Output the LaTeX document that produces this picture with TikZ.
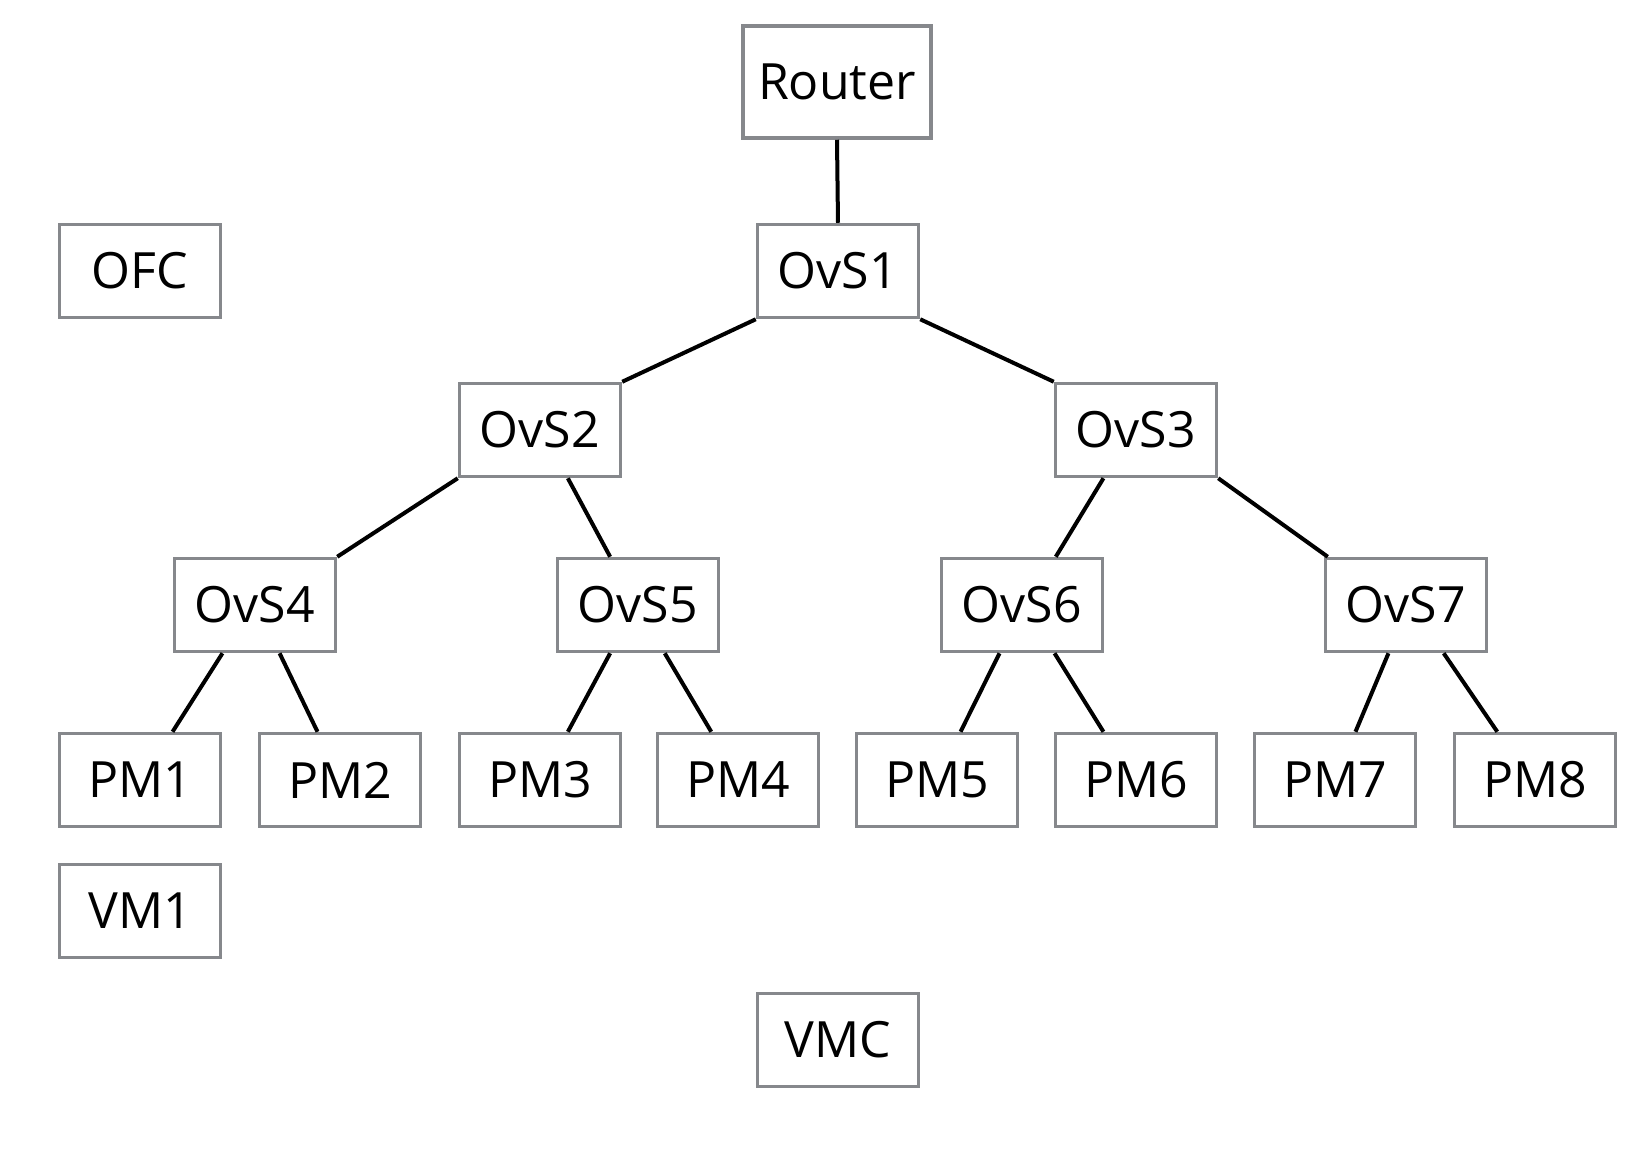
\documentclass[tikz,border=0pt]{standalone}
\usepackage{fontspec}
\setmainfont{Open Sans}
\usepackage{tikz}
\definecolor{boxgray}{RGB}{134,136,140}

\begin{document}
\begin{tikzpicture}[x=0.5pt,y=-0.5pt,
    box/.style={draw=boxgray,line width=1.75pt,minimum width=80.5pt,minimum height=46.5pt,
                inner sep=0pt,font=\fontsize{25}{30}\selectfont},
    link/.style={line width=2pt}]
  \useasboundingbox (0,0) rectangle (1630,1148);

  \node[box,minimum width=94pt,minimum height=56pt] (router) at (837,82) {Router};
  \node[box] (ofc)  at (140,271)  {OFC};
  \node[box] (ovs1) at (838,271)  {OvS1};
  \node[box] (ovs2) at (540,430)  {OvS2};
  \node[box] (ovs3) at (1136,430) {OvS3};
  \node[box] (ovs4) at (255,605)  {OvS4};
  \node[box] (ovs5) at (638,605)  {OvS5};
  \node[box] (ovs6) at (1022,605) {OvS6};
  \node[box] (ovs7) at (1406,605) {OvS7};
  \node[box] (pm1)  at (140,780)  {PM1};
  \node[box] (pm2)  at (340,780)  {PM2};
  \node[box] (pm3)  at (540,780)  {PM3};
  \node[box] (pm4)  at (738,780)  {PM4};
  \node[box] (pm5)  at (937,780)  {PM5};
  \node[box] (pm6)  at (1136,780) {PM6};
  \node[box] (pm7)  at (1335,780) {PM7};
  \node[box] (pm8)  at (1535,780) {PM8};
  \node[box] (vm1)  at (140,911)  {VM1};
  \node[box] (vmc)  at (838,1040) {VMC};

  \path[link]
    (router.south)      edge (ovs1.north)
    (ovs1.south west)   edge (ovs2.north east)
    (ovs1.south east)   edge (ovs3.north west)
    (ovs2.south west)   edge (ovs4.north east)
    (ovs2.-60)          edge (ovs5.120)
    (ovs3.-124)         edge (ovs6.55)
    (ovs3.south east)   edge ([xshift=2pt]ovs7.north west)
    (ovs4.-124)         edge (pm1.56)
    (ovs4.-63)          edge (pm2.115)
    (ovs5.-120)         edge (pm3.60)
    (ovs5.-61)          edge (pm4.119)
    (ovs6.-115)         edge (pm5.64)
    (ovs6.-56)          edge (pm6.124)
    (ovs7.-110)         edge (pm7.67)
    (ovs7.-52)          edge (pm8.128)
  ;
\end{tikzpicture}
\end{document}
